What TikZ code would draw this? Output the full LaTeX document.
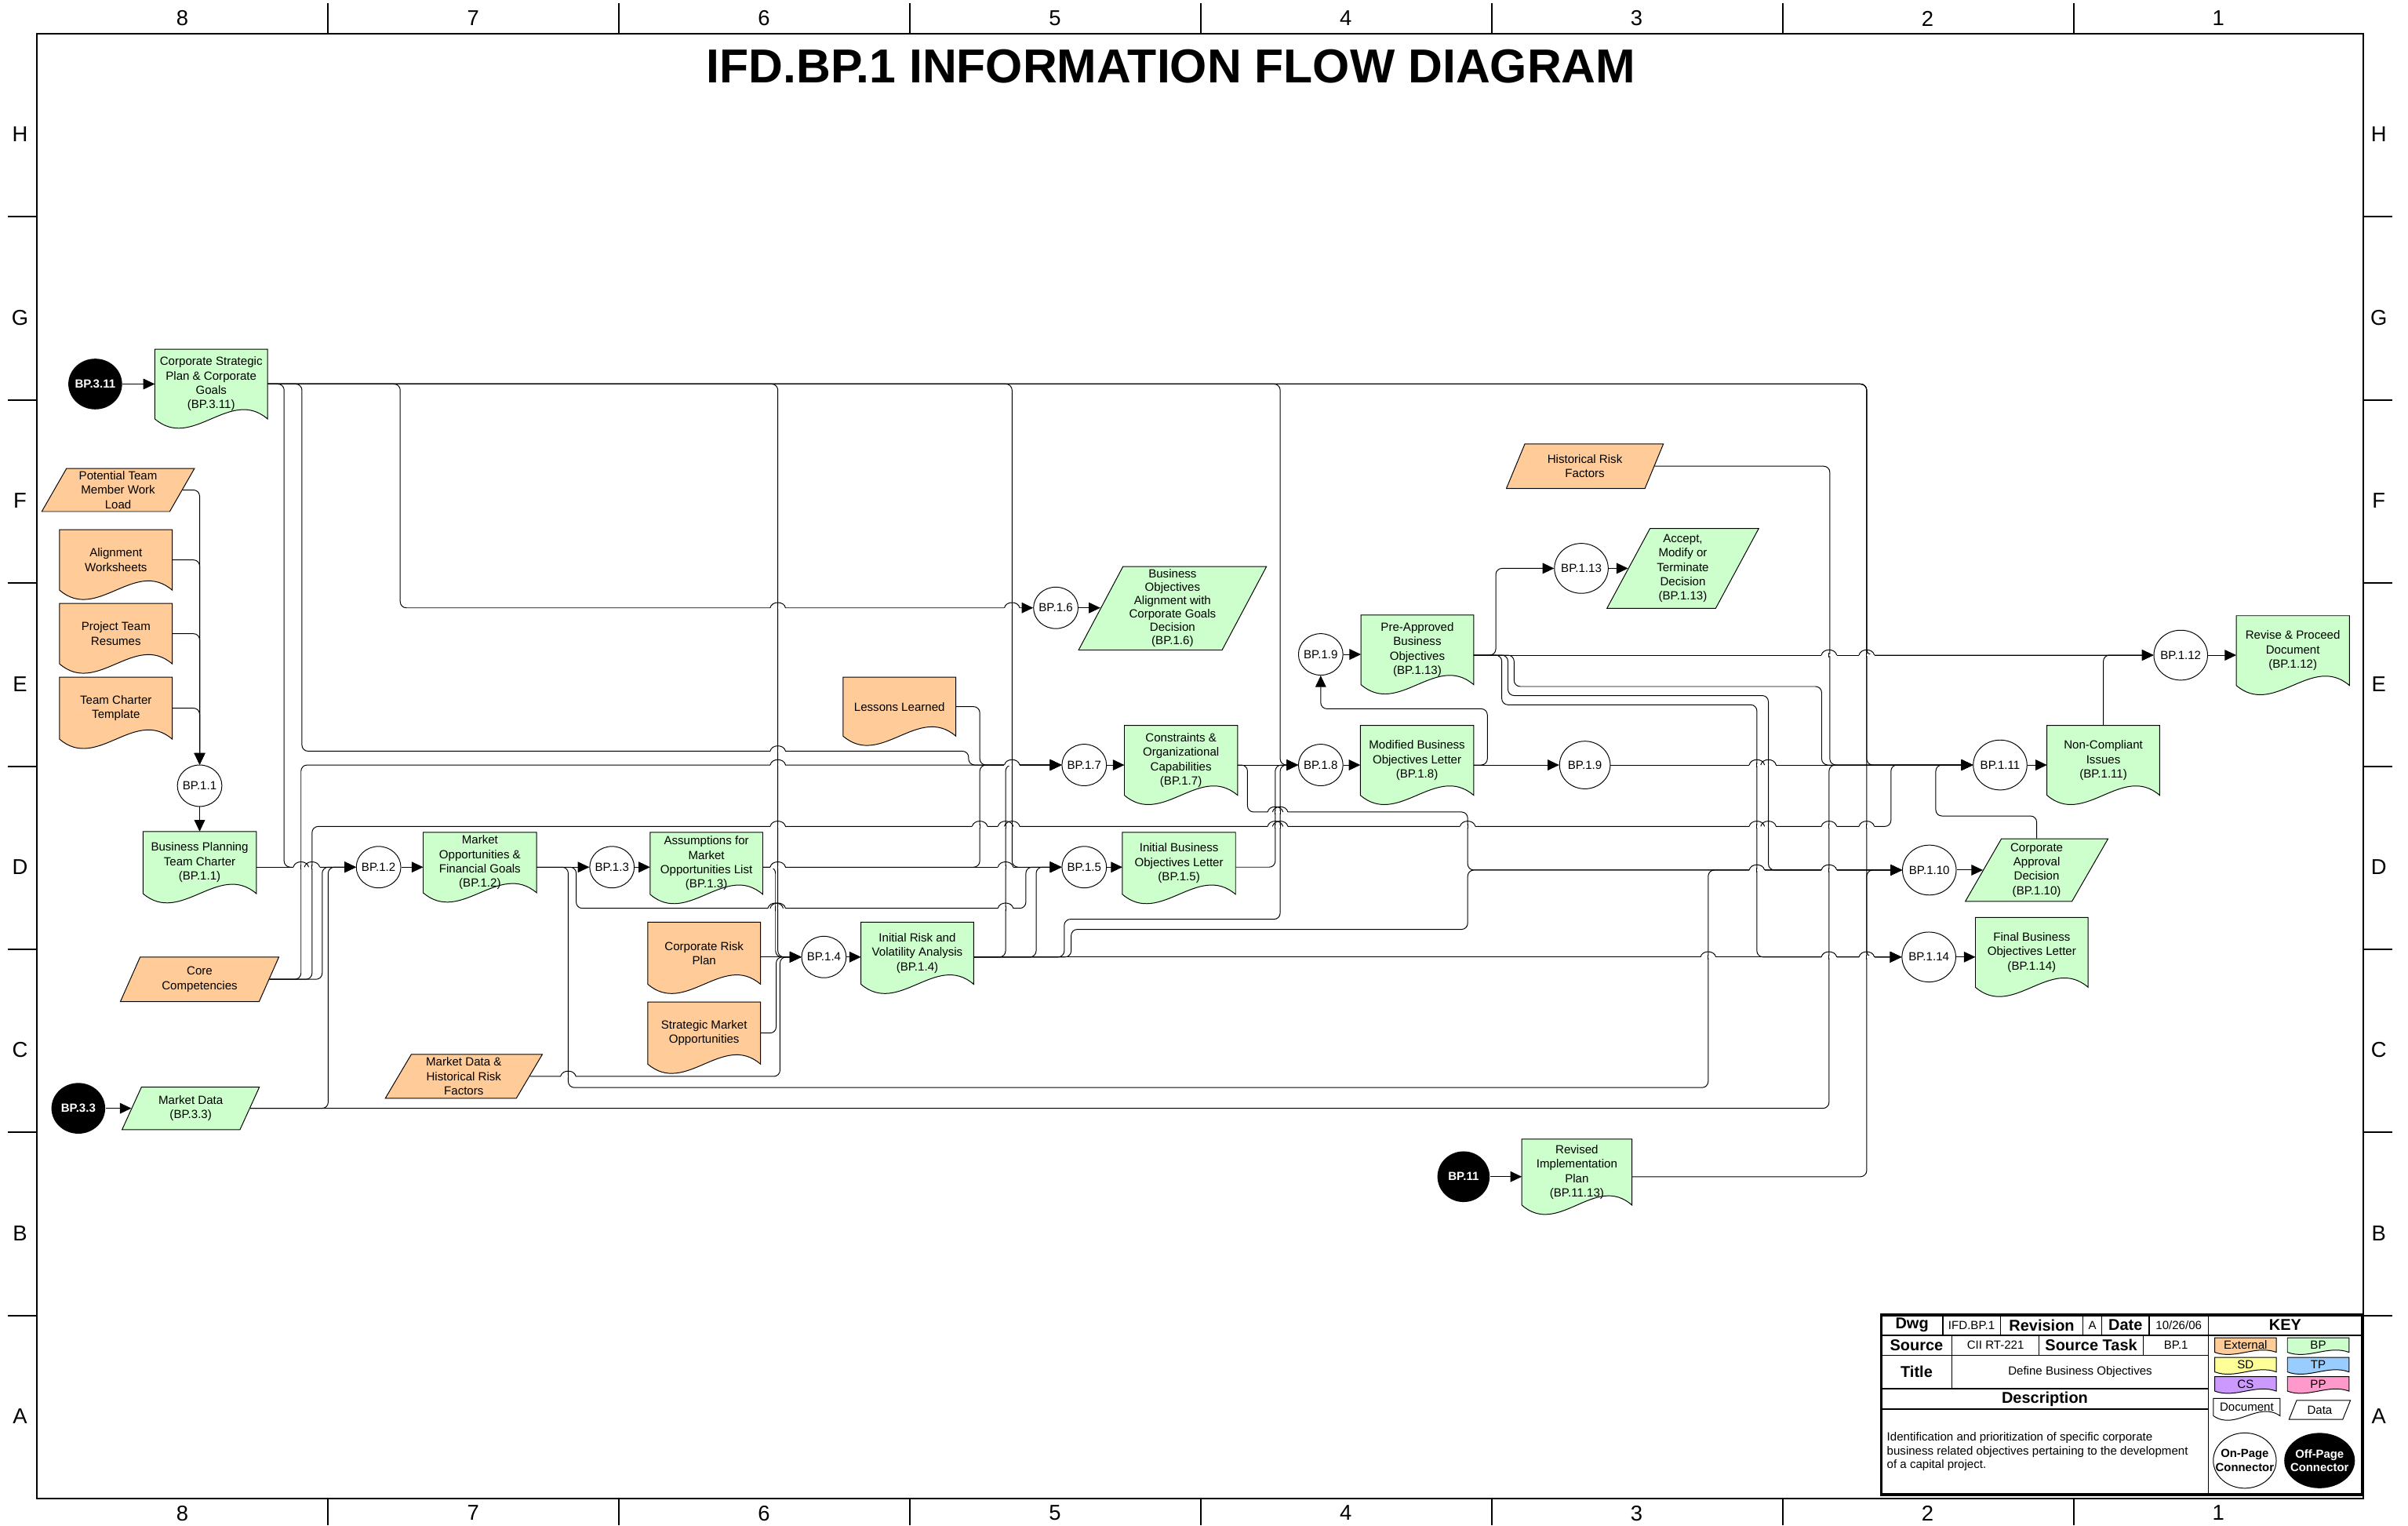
\documentclass[tikz,border=0pt]{standalone}
\usepackage{fontspec}
\setmainfont{Liberation Sans}
\usetikzlibrary{arrows.meta,positioning,shapes.geometric,calc,backgrounds}

\definecolor{extorange}{RGB}{255,204,153}
\definecolor{bpgreen}{RGB}{204,255,204}
\definecolor{sdyellow}{RGB}{255,255,153}
\definecolor{tpblue}{RGB}{153,204,255}
\definecolor{cspurple}{RGB}{204,153,255}
\definecolor{pppink}{RGB}{255,153,204}

\newcommand\nodefont{\fontsize{7.7}{9.4}\selectfont}
\newcommand\tightfont{\fontsize{7.7}{8.7}\selectfont}

%% document symbol: box with wavy bottom, drawn behind its text
\newcommand\docnode[7][21]{%
  \node[docbox, minimum width=#5pt, minimum height=#6pt] (#2) at (#4) {#7};
  \begin{pgfonlayer}{background}
    \filldraw[fill=#3, draw=black, line width=0.5pt]
      (#2.south west) -- (#2.north west) -- (#2.north east) -- (#2.south east)
      .. controls ($(#2.south east)!0.333!(#2.south west)+(0,-#1)$)
      and ($(#2.south east)!0.667!(#2.south west)+(0,#1)$) .. (#2.south west) -- cycle;
  \end{pgfonlayer}}

%% line jumps: crossing points on horizontal connectors
\def\hoplist{506.5/395.7, 659/395.7, 506.5/489, 506.5/498, 659/498,
  506.5/538, 638/538, 654.8/538, 659/538, 830.4/538, 833.6/538, 955.7/538,
  1144/538, 1151.5/538, 1191/538, 1215.5/538,
  196/564.5, 203.2/564.5, 506.5/564.5, 654.8/564.5,
  505/591.3, 506.5/591.3, 654.8/591.3,
  1112.3/623, 1191/623, 1215.5/623, 370/700.7,
  1144/566.4, 1191/566.4, 1144/498, 1151.5/498,
  1191/426.5, 1215.5/426.5, 830.4/528.6, 833.6/528.6}

\begin{document}
\begin{tikzpicture}[x=1pt, y=-1pt, font=\nodefont,
  flow/.style={draw=black, line width=0.5pt, rounded corners=4pt},
  arr/.style={flow, -{Triangle[length=7.5pt,width=7pt]}},
  onpage/.style={ellipse, draw, fill=white, line width=0.5pt, inner xsep=-3pt, inner ysep=0pt,
    minimum width=29pt, minimum height=27pt, align=center},
  bigpage/.style={minimum width=35pt, minimum height=32.5pt},
  offpage/.style={ellipse, fill=black, text=white, font=\nodefont\bfseries, inner xsep=-3pt,
    inner ysep=0pt, minimum width=35pt, minimum height=33pt, align=center},
  docbox/.style={rectangle, inner sep=1pt, align=center},
  databox/.style={trapezium, trapezium left angle=63.5, trapezium right angle=116.5,
    trapezium stretches=true, draw, line width=0.5pt, inner sep=0pt, align=center},
  ext/.style={fill=extorange},
  bp/.style={fill=bpgreen},
  framelabel/.style={font=\fontsize{14}{16}\selectfont},
  keyhead/.style={font=\fontsize{10.2}{12}\selectfont\bfseries, inner sep=0pt},
  keytext/.style={font=\nodefont, inner sep=0pt}
]
\useasboundingbox (0,0) rectangle (1568,993);

%% drawing frame
\draw[line width=1pt] (24,22) rectangle (1539,975.5);
\foreach \x in {213.5,403,592.5,782,971.5,1161,1350.5}{
  \draw[line width=1pt] (\x,2) -- (\x,22) (\x,975.5) -- (\x,993);
}
\foreach \y in {141.2,260.4,379.6,498.8,618,737.2,856.4}{
  \draw[line width=1pt] (5,\y) -- (24,\y) (1539,\y) -- (1558,\y);
}
\foreach \n [count=\i] in {8,7,6,5,4,3,2,1}{
  \node[framelabel] (top\n) at ({24+189.4*(\i-0.5)},12) {\n};
  \node[framelabel] (bot\n) at ({24+189.4*(\i-0.5)},985) {\n};
}
\foreach \r [count=\i] in {H,G,F,E,D,C,B,A}{
  \node[framelabel] (left\r) at (13,{22+119.2*(\i-0.5)+6}) {\r};
  \node[framelabel] (right\r) at (1549,{22+119.2*(\i-0.5)+6}) {\r};
}
\node[font=\fontsize{31}{36}\selectfont\bfseries] (title) at (762.5,43) {IFD.BP.1 INFORMATION FLOW DIAGRAM};

%% off-page connectors
\node[offpage] (o311) at (62,250) {BP.3.11};
\node[offpage] (o33) at (51,721.5) {BP.3.3};
\node[offpage, minimum width=34pt] (o11) at (953,766) {BP.11};

%% documents
\docnode{csp}{bpgreen}{137.5,250}{73}{45}{Corporate Strategic\\Plan \& Corporate\\Goals\\(BP.3.11)}
\docnode{alw}{extorange}{75.5,364.5}{73}{39}{Alignment\\Worksheets}
\docnode{ptr}{extorange}{75.5,412.5}{73}{39}{Project Team\\Resumes}
\docnode{tct}{extorange}{75.5,461}{73}{40}{Team Charter\\Template}
\docnode{bpc}{bpgreen}{130,561.5}{73.4}{40}{Business Planning\\Team Charter\\(BP.1.1)}
\docnode{mofg}{bpgreen}{312.5,561.5}{73.5}{39}{Market\\Opportunities \&\\Financial Goals\\(BP.1.2)}
\docnode{amol}{bpgreen}{460,562}{73}{40}{Assumptions for\\Market\\Opportunities List\\(BP.1.3)}
\docnode{crp}{extorange}{458.5,620.5}{73}{40}{Corporate Risk\\Plan}
\docnode{smo}{extorange}{458.5,672.5}{73}{40}{Strategic Market\\Opportunities}
\docnode{irva}{bpgreen}{597.3,620.5}{73}{40}{Initial Risk and\\Volatility Analysis\\(BP.1.4)}
\docnode{ll}{extorange}{585.7,460}{73}{38}{Lessons Learned}
\docnode{coc}{bpgreen}{769,495}{73.3}{45}{Constraints \&\\Organizational\\Capabilities\\(BP.1.7)}
\docnode{ibol}{bpgreen}{767.7,562}{73.3}{40}{Initial Business\\Objectives Letter\\(BP.1.5)}
\docnode{mbol}{bpgreen}{922.7,495}{73.4}{45}{Modified Business\\Objectives Letter\\(BP.1.8)}
\docnode{pabo}{bpgreen}{922.9,423}{73}{45}{Pre-Approved\\Business\\Objectives\\(BP.1.13)}
\docnode{nci}{bpgreen}{1369.6,495}{73}{45}{Non-Compliant\\Issues\\(BP.1.11)}
\docnode{rpd}{bpgreen}{1493,423.5}{73.3}{45}{Revise \& Proceed\\Document\\(BP.1.12)}
\docnode{fbol}{bpgreen}{1323,620}{73}{45}{Final Business\\Objectives Letter\\(BP.1.14)}
\docnode{rip}{bpgreen}{1026.8,763}{71.3}{42.6}{Revised\\Implementation\\Plan\\(BP.11.13)}

%% data
\node[databox, ext, minimum width=100pt, minimum height=28pt] (ptm) at (76.9,319) {Potential Team\\Member Work\\Load};
\node[databox, ext, minimum width=103.6pt, minimum height=29pt] (cc) at (130,637.5) {Core\\Competencies};
\node[databox, bp, minimum width=89.5pt, minimum height=27.7pt] (md33) at (124.2,721.5) {Market Data\\(BP.3.3)};
\node[databox, ext, minimum width=103pt, minimum height=28.6pt] (mdhrf) at (302,700.7) {Market Data \&\\Historical Risk\\Factors};
\node[databox, bp, minimum width=122.4pt, minimum height=54.3pt, font=\tightfont] (boac) at (763.5,396) {Business\\Objectives\\Alignment with\\Corporate Goals\\Decision\\(BP.1.6)};
\node[databox, bp, minimum width=99.6pt, minimum height=52pt] (amtd) at (1095.8,370) {Accept,\\Modify or\\Terminate\\Decision\\(BP.1.13)};
\node[databox, ext, minimum width=102.8pt, minimum height=29pt] (hrf) at (1032,303.5) {Historical Risk\\Factors};
\node[databox, bp, minimum width=93.2pt, minimum height=40.8pt] (cad) at (1326.2,566.4) {Corporate\\Approval\\Decision\\(BP.1.10)};

%% on-page connectors
\node[onpage] (c11) at (130,511.5) {BP.1.1};
\node[onpage] (c12) at (246.5,564.5) {BP.1.2};
\node[onpage] (c13) at (398.5,564.5) {BP.1.3};
\node[onpage] (c14) at (536.5,623) {BP.1.4};
\node[onpage] (c15) at (706,564.5) {BP.1.5};
\node[onpage] (c16) at (687.5,395.7) {BP.1.6};
\node[onpage] (c17) at (706,498) {BP.1.7};
\node[onpage] (c18) at (860,498) {BP.1.8};
\node[onpage] (c19a) at (860,426) {BP.1.9};
\node[onpage, minimum width=33pt, minimum height=31pt] (c19b) at (1032,498) {BP.1.9};
\node[onpage, bigpage] (c113) at (1029.7,370) {BP.1.13};
\node[onpage, bigpage] (c112) at (1420,426.5) {BP.1.12};
\node[onpage, bigpage] (c111) at (1302.4,498) {BP.1.11};
\node[onpage, bigpage] (c110) at (1256.3,566.4) {BP.1.10};
\node[onpage, bigpage] (c114) at (1256,623) {BP.1.14};

%% left column into BP.1.1
\draw[arr] (ptm.east) -| (c11.north);
\draw[arr] (alw.east) -| (c11.north);
\draw[arr] (ptr.east) -| (c11.north);
\draw[arr] (tct.east) -| (c11.north);
\draw[arr] (c11.south) -- (bpc.north);

%% off-page inputs
\draw[arr] (o311.east) -- (o311.east -| csp.west);
\draw[arr] (o33.east) -- (o33.east -| md33.west);
\draw[arr] (o11.east) -- (o11.east -| rip.west);

%% BP.1.2 and BP.1.3
\draw[arr] (bpc.east |- c12) -- (c12.west);
\draw[arr] (csp.east) -| (185,564.5) -- (c12.west);
\draw[arr] (cc.east) -| (209.8,564.5) -- (c12.west);
\draw[arr] (md33.east) -| (213.7,564.5) -- (c12.west);
\draw[arr] (c12.east) -- (c12.east -| mofg.west);
\draw[arr] (mofg.east |- c13) -- (c13.west);
\draw[arr] (c13.east) -- (c13.east -| amol.west);
\draw[arr] (mofg.east |- c13) -| (375.2,591.3) -| (668,564.5) -- (c15.west);
\draw[arr] (mofg.east |- c13) -| (370,708) -| (1112.3,566.4) -- (c110.west);

%% BP.1.4
\draw[arr] (amol.east |- c13) -- (c15.west);
\draw[arr] (amol.east |- c13) -| (505,623) -- (c14.west);
\draw[arr] (amol.east |- c13) -| (638,498) -- (c17.west);
\draw[arr] (csp.east) -| (506.5,623) -- (c14.west);
\draw[arr] (crp.east |- c14) -- (c14.west);
\draw[arr] (smo.east) -| (505.4,623) -- (c14.west);
\draw[arr] (mdhrf.east) -| (507.9,623) -- (c14.west);
\draw[arr] (c14.east) -- (c14.east -| irva.west);
\draw[arr] (irva.east |- c14) -| (654.8,498) -- (c17.west);
\draw[arr] (irva.east |- c14) -| (674.7,564.5) -- (c15.west);
\draw[arr] (irva.east |- c14) -| (693,598.4) -| (833.6,498) -- (c18.west);
\draw[arr] (irva.east |- c14) -| (697.5,605) -| (955.7,566.4) -- (c110.west);
\draw[arr] (irva.east |- c14) -- (c114.west);

%% BP.1.5 to BP.1.7
\draw[arr] (csp.east) -| (659,564.5) -- (c15.west);
\draw[arr] (c15.east) -- (c15.east -| ibol.west);
\draw[arr] (csp.east) -| (260.6,395.7) -- (c16.west);
\draw[arr] (c16.east) -- (c16.east -| boac.west);
\draw[arr] (ll.east) -| (638,498) -- (c17.west);
\draw[arr] (csp.east) -| (196.6,489) -| (630.7,498) -- (c17.west);
\draw[arr] (cc.east) -| (196,498) -- (c17.west);
\draw[arr] (cc.east) -| (203.2,538) -| (1231.3,498) -- (c111.west);
\draw[arr] (c17.east) -- (c17.east -| coc.west);

%% BP.1.8 and BP.1.9
\draw[arr] (coc.east |- c18) -- (c18.west);
\draw[arr] (coc.east |- c18) -| (812.3,528.6) -| (955.7,566.4) -- (c110.west);
\draw[arr] (ibol.east |- c15) -| (830.4,498) -- (c18.west);
\draw[arr] (csp.east) -| (833.6,498) -- (c18.west);
\draw[arr] (c18.east) -- (c18.east -| mbol.west);
\draw[arr] (mbol.east |- c19b) -- (c19b.west);
\draw[arr] (mbol.east |- c19b) -| (968.5,461.4) -| (c19a.south);
\draw[arr] (c19a.east) -- (c19a.east -| pabo.west);

%% BP.1.13 outputs
\draw[arr] (pabo.east |- c112) -| (974,370) -- (c113.west);
\draw[arr] (c113.east) -- (c113.east -| amtd.west);
\draw[arr] (pabo.east |- c112) -- (c112.west);
\draw[arr] (pabo.east |- c112) -| (985.9,446.9) -| (1186.2,498) -- (c111.west);
\draw[arr] (pabo.east |- c112) -| (981.9,452.8) -| (1151.5,566.4) -- (c110.west);
\draw[arr] (pabo.east |- c112) -| (977.9,458.8) -| (1144,623) -- (c114.west);

%% right side
\draw[arr] (hrf.east) -| (1191.5,498) -- (c111.west);
\draw[arr] (md33.east) -| (1191,498) -- (c111.west);
\draw[arr] (c19b.east) -- (c111.west);
\draw[arr] (csp.east) -| (1215.5,426.5) -- (c112.west);
\draw[arr] (csp.east) -| (1215.5,498) -- (c111.west);
\draw[arr] (csp.east) -| (1215.5,623) -- (c114.west);
\draw[arr] (rip.east |- o11) -| (1215.5,566.4) -- (c110.west);
\draw[arr] (cad.north) |- (1260.5,531.2) |- (c111.west);
\draw[arr] (c111.east) -- (c111.east -| nci.west);
\draw[arr] (nci.north) |- (c112.west);
\draw[arr] (c112.east) -- (c112.east -| rpd.west);
\draw[arr] (c110.east) -- (c110.east -| cad.west);
\draw[arr] (c114.east) -- (c114.east -| fbol.west);

%% line jumps
\foreach \hx/\hy in \hoplist{
  \fill[white] ({\hx-5},{\hy-0.7}) rectangle ({\hx+5},{\hy+0.7});
}
\foreach \hx/\hy in \hoplist{
  \draw[line width=0.5pt] (\hx,{\hy-1.5}) -- (\hx,{\hy+1.5});
  \draw[line width=0.5pt] ({\hx-5},\hy) .. controls ({\hx-4},{\hy-4.6}) and ({\hx+4},{\hy-4.6}) .. ({\hx+5},\hy);
}

%% title block
\draw[line width=1.8pt] (1225,856) rectangle (1538,973);
\draw[line width=0.8pt] (1438,856) -- (1438,973) (1225,869.2) -- (1538,869.2);
\draw[line width=0.8pt] (1225,882.3) -- (1438,882.3) (1225,904.1) -- (1438,904.1) (1225,917.4) -- (1438,917.4);
\foreach \x in {1265,1302.6,1356.3,1368.6,1399.3}{ \draw[line width=0.8pt] (\x,856) -- (\x,869.2); }
\draw[line width=0.8pt] (1271,869.2) -- (1271,904.1) (1327.7,869.2) -- (1327.7,882.3) (1395.7,869.2) -- (1395.7,882.3);
\node[keyhead] (kdwg) at (1245,862.6) {Dwg};
\node[keytext] (kdwgv) at (1283.8,862.6) {IFD.BP.1};
\node[keyhead] (krev) at (1329.5,862.6) {Revision};
\node[keytext] (krevv) at (1362.5,862.6) {A};
\node[keyhead] (kdate) at (1384,862.6) {Date};
\node[keytext] (kdatev) at (1418.7,862.6) {10/26/06};
\node[keyhead] (ksrc) at (1248,875.8) {Source};
\node[keytext] (ksrcv) at (1299.4,875.8) {CII RT-221};
\node[keyhead] (ktask) at (1361.7,875.8) {Source Task};
\node[keytext] (ktaskv) at (1416.9,875.8) {BP.1};
\node[keyhead] (ktitle) at (1248,893.2) {Title};
\node[keytext] (ktitlev) at (1354.5,893.2) {Define Business Objectives};
\node[keyhead] (kdesc) at (1331.5,910.8) {Description};
\node[keytext, anchor=west, align=left, font=\fontsize{7.7}{8.8}\selectfont] (kdescv) at (1228.5,945)
  {Identification and prioritization of specific corporate\\business related objectives pertaining to the development\\of a capital project.};
\node[keyhead] (kkey) at (1488,862.6) {KEY};
\docnode[5]{kext}{extorange}{1462.2,875.6}{39.7}{9}{External}
\docnode[5]{kbp}{bpgreen}{1509.5,875.6}{39.7}{9}{BP}
\docnode[5]{ksd}{sdyellow}{1462.2,888.4}{39.7}{9}{SD}
\docnode[5]{ktp}{tpblue}{1509.5,888.4}{39.7}{9}{TP}
\docnode[5]{kcs}{cspurple}{1462.2,900.9}{39.7}{9}{CS}
\docnode[5]{kpp}{pppink}{1509.5,900.9}{39.7}{9}{PP}
\docnode[10]{kdoc}{white}{1463,916}{43}{11}{Document}
\node[databox, fill=white, minimum width=40pt, minimum height=12.3pt] (kdata) at (1510.5,917.8) {Data};
\node[onpage, minimum width=41pt, minimum height=36pt, inner xsep=-6pt, font=\fontsize{7.6}{9}\selectfont\bfseries] (kon) at (1461.7,950.8) {On-Page\\Connector};
\node[offpage, minimum width=46pt, minimum height=36pt, inner xsep=-6pt, font=\fontsize{7.6}{9}\selectfont\bfseries] (koff) at (1510.4,950.8) {Off-Page\\Connector};
\end{tikzpicture}
\end{document}
